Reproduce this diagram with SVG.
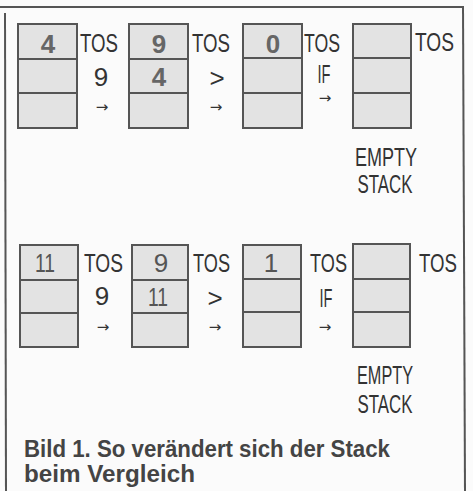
<svg xmlns="http://www.w3.org/2000/svg" width="473" height="491" viewBox="0 0 473 491">
<style>
.cell{fill:#e3e3e3;stroke:#555;stroke-width:2}
.div{stroke:#555;stroke-width:2}
.frame{stroke:#555;stroke-width:2;fill:none}
.v{font-family:"Liberation Sans",Arial,sans-serif;font-size:26px;font-weight:bold;fill:#666;text-anchor:middle}
.r{font-family:"Liberation Sans",Arial,sans-serif;font-size:26px;fill:#555;text-anchor:middle}
.t{font-family:"Liberation Sans",Arial,sans-serif;font-size:26px;fill:#333}
.m{font-family:"Liberation Sans",Arial,sans-serif;font-size:26px;fill:#333;text-anchor:middle}
.a{font-family:"DejaVu Sans",sans-serif;font-size:15px;fill:#333;text-anchor:middle}
.c{font-family:"Liberation Sans",Arial,sans-serif;font-size:23px;font-weight:bold;fill:#444}
</style>
<rect width="473" height="491" fill="#fbfbfb"/>
<g id="frame">
<line class="frame" x1="0" y1="7" x2="464" y2="7"/>
<line class="frame" x1="5" y1="13" x2="6" y2="491"/>
<line class="frame" x1="463" y1="6" x2="465" y2="491"/>
</g>
<g id="stack-r1-1">
<rect class="cell" x="18" y="24" width="59" height="104"/>
<line class="div" x1="18" y1="59" x2="77" y2="59"/><line class="div" x1="18" y1="93" x2="77" y2="93"/>
<text class="v" x="48" y="53">4</text>
<text class="t" x="80" y="52" textLength="38" lengthAdjust="spacingAndGlyphs">TOS</text>
</g>
<g id="stack-r1-2">
<rect class="cell" x="129" y="24" width="59" height="104"/>
<line class="div" x1="129" y1="59" x2="188" y2="59"/><line class="div" x1="129" y1="93" x2="188" y2="93"/>
<text class="v" x="159" y="53">9</text>
<text class="v" x="159" y="86">4</text>
<text class="t" x="192" y="52" textLength="38" lengthAdjust="spacingAndGlyphs">TOS</text>
</g>
<g id="stack-r1-3">
<rect class="cell" x="243" y="24" width="59" height="104"/>
<line class="div" x1="243" y1="58" x2="302" y2="58"/><line class="div" x1="243" y1="93" x2="302" y2="93"/>
<text class="v" x="273" y="53">0</text>
<text class="t" x="304" y="52" textLength="36" lengthAdjust="spacingAndGlyphs">TOS</text>
</g>
<g id="stack-r1-4">
<rect class="cell" x="353" y="24" width="58" height="104"/>
<line class="div" x1="353" y1="58" x2="411" y2="58"/><line class="div" x1="353" y1="93" x2="411" y2="93"/>
<text class="t" x="415" y="51" textLength="39" lengthAdjust="spacingAndGlyphs">TOS</text>
<text class="m" x="386" y="166" textLength="62" lengthAdjust="spacingAndGlyphs">EMPTY</text>
<text class="m" x="385" y="193" textLength="55" lengthAdjust="spacingAndGlyphs">STACK</text>
</g>
<g id="stack-r2-1">
<rect class="cell" x="20" y="245" width="58" height="102"/>
<line class="div" x1="20" y1="280" x2="78" y2="280"/><line class="div" x1="20" y1="313" x2="78" y2="313"/>
<text class="r" x="45" y="272" textLength="20" lengthAdjust="spacingAndGlyphs">11</text>
<text class="t" x="84" y="272" textLength="39" lengthAdjust="spacingAndGlyphs">TOS</text>
</g>
<g id="stack-r2-2">
<rect class="cell" x="132" y="245" width="56" height="102"/>
<line class="div" x1="132" y1="280" x2="188" y2="280"/><line class="div" x1="132" y1="313" x2="188" y2="313"/>
<text class="r" x="161" y="272">9</text>
<text class="r" x="158" y="306" textLength="20" lengthAdjust="spacingAndGlyphs">11</text>
<text class="t" x="193" y="272" textLength="37" lengthAdjust="spacingAndGlyphs">TOS</text>
</g>
<g id="stack-r2-3">
<rect class="cell" x="243" y="245" width="58" height="102"/>
<line class="div" x1="243" y1="279" x2="301" y2="279"/><line class="div" x1="243" y1="312" x2="301" y2="312"/>
<text class="r" x="271" y="272">1</text>
<text class="t" x="310" y="272" textLength="37" lengthAdjust="spacingAndGlyphs">TOS</text>
</g>
<g id="stack-r2-4">
<rect class="cell" x="353" y="244" width="57" height="103"/>
<line class="div" x1="353" y1="279" x2="410" y2="279"/><line class="div" x1="353" y1="312" x2="410" y2="312"/>
<text class="t" x="419" y="272" textLength="38" lengthAdjust="spacingAndGlyphs">TOS</text>
<text class="m" x="385" y="384" textLength="56" lengthAdjust="spacingAndGlyphs">EMPTY</text>
<text class="m" x="385" y="413" textLength="55" lengthAdjust="spacingAndGlyphs">STACK</text>
</g>
<g id="connectors">
<text class="m" x="101" y="86">9</text>
<text class="a" x="102" y="112">→</text>
<text class="m" x="217" y="87">&gt;</text>
<text class="a" x="216" y="112">→</text>
<text class="m" x="324" y="83" textLength="13" lengthAdjust="spacingAndGlyphs">IF</text>
<text class="a" x="325" y="103">→</text>
<text class="m" x="102" y="305">9</text>
<text class="a" x="103" y="332">→</text>
<text class="m" x="215" y="307">&gt;</text>
<text class="a" x="215" y="332">→</text>
<text class="m" x="326" y="307" textLength="13" lengthAdjust="spacingAndGlyphs">IF</text>
<text class="a" x="325" y="332">→</text>
</g>
<g id="caption">
<text class="c" x="24" y="457" textLength="366" lengthAdjust="spacingAndGlyphs">Bild 1. So verändert sich der Stack</text>
<text class="c" x="24" y="482" textLength="171" lengthAdjust="spacingAndGlyphs">beim Vergleich</text>
</g>
</svg>
